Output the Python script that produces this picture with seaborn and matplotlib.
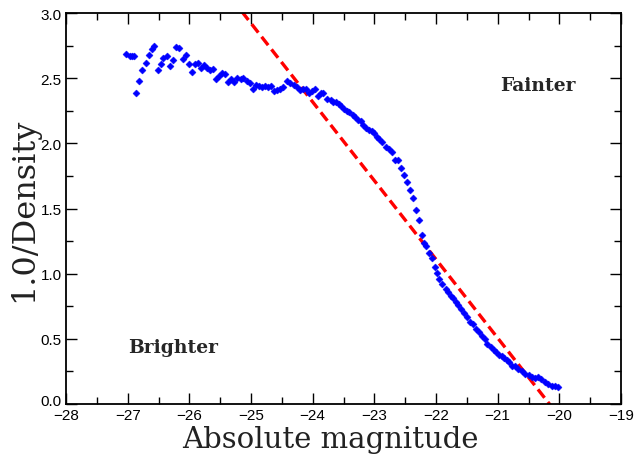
import matplotlib
matplotlib.use("Agg")
import matplotlib.pyplot as plt
import matplotlib.transforms as mtransforms
import seaborn as sns
import numpy as np
import pandas as pd
from matplotlib.ticker import MultipleLocator

# Data
magnitude = [
    -27.02, -26.97, -26.93, -26.90, -26.865, -26.81, -26.77, -26.71, -26.66, -26.61,
    -26.57, -26.51, -26.46, -26.42, -26.37, -26.31, -26.26, -26.21, -26.16, -26.11,
    -26.06, -26.01, -25.96, -25.91, -25.865, -25.81, -25.76, -25.71, -25.665, -25.61,
    -25.57, -25.52, -25.47, -25.42, -25.37, -25.32, -25.27, -25.22, -25.17, -25.125,
    -25.07, -25.02, -24.97, -24.925, -24.875, -24.82, -24.77, -24.72, -24.675, -24.63,
    -24.58, -24.53, -24.48, -24.42, -24.37, -24.31, -24.26, -24.21, -24.15, -24.10,
    -24.055, -24.01, -23.96, -23.92, -23.87, -23.83, -23.76, -23.71, -23.665, -23.62,
    -23.58, -23.535, -23.49, -23.45, -23.41, -23.35, -23.31, -23.26, -23.22, -23.18,
    -23.135, -23.09, -23.04, -23.00, -22.96, -22.92, -22.875, -22.81, -22.77, -22.72,
    -22.665, -22.62, -22.57, -22.52, -22.465, -22.42, -22.37, -22.32, -22.27, -22.22,
    -22.195, -22.16, -22.12, -22.07, -22.02, -21.99, -21.95, -21.90, -21.84, -21.80,
    -21.76, -21.73, -21.68, -21.64, -21.595, -21.55, -21.49, -21.45, -21.405, -21.35,
    -21.30, -21.26, -21.21, -21.17, -21.11, -21.06, -21.02, -20.975, -20.935, -20.89,
    -20.85, -20.81, -20.77, -20.72, -20.665, -20.61, -20.55, -20.50, -20.45, -20.39,
    -20.34, -20.29, -20.23, -20.18, -20.125, -20.07, -20.02,
]
inv_density = [
    2.685, 2.67, 2.67, 2.67, 2.39, 2.48, 2.56, 2.62, 2.68, 2.72,
    2.75, 2.56, 2.61, 2.655, 2.67, 2.59, 2.64, 2.74, 2.735, 2.65,
    2.68, 2.61, 2.55, 2.61, 2.62, 2.58, 2.60, 2.58, 2.56, 2.57,
    2.49, 2.52, 2.54, 2.53, 2.47, 2.49, 2.47, 2.505, 2.49, 2.505,
    2.48, 2.46, 2.42, 2.45, 2.44, 2.43, 2.44, 2.43, 2.44, 2.40,
    2.41, 2.42, 2.43, 2.48, 2.46, 2.45, 2.43, 2.41, 2.42, 2.42,
    2.39, 2.405, 2.42, 2.36, 2.39, 2.385, 2.34, 2.33, 2.32, 2.315,
    2.30, 2.285, 2.26, 2.25, 2.24, 2.22, 2.20, 2.18, 2.17, 2.14,
    2.12, 2.105, 2.095, 2.08, 2.045, 2.03, 2.01, 1.97, 1.96, 1.93,
    1.875, 1.87, 1.81, 1.76, 1.70, 1.645, 1.58, 1.49, 1.41, 1.30,
    1.235, 1.21, 1.16, 1.12, 1.05, 1.005, 0.96, 0.92, 0.88, 0.857,
    0.83, 0.81, 0.785, 0.76, 0.73, 0.70, 0.67, 0.63, 0.61, 0.575,
    0.55, 0.52, 0.50, 0.46, 0.435, 0.414, 0.40, 0.376, 0.365, 0.35,
    0.34, 0.32, 0.294, 0.29, 0.27, 0.255, 0.23, 0.22, 0.205, 0.20,
    0.205, 0.19, 0.167, 0.15, 0.14, 0.135, 0.13,
]
fit_mag = [-26.0, -20.0]
fit_val = [3.525, -0.097]

x_ticks = [-28, -27, -26, -25, -24, -23, -22, -21, -20, -19]
y_ticks = [0.0, 0.5, 1.0, 1.5, 2.0, 2.5, 3.0]

df = pd.DataFrame({"mag": magnitude, "inv": inv_density})
fit = pd.DataFrame({"mag": fit_mag, "inv": fit_val})

sns.set_theme(style="ticks")
plt.rcParams["font.family"] = ["Liberation Sans", "DejaVu Sans"]

fig = plt.figure(figsize=(6.34, 4.56), dpi=100)
ax = fig.add_axes([66/634, 1-405/456, (621-66)/634, (405-14)/456])

sns.lineplot(data=fit, x="mag", y="inv", ax=ax, color="#ff0000",
             linestyle=(0, (3.2, 1.6)), linewidth=2.4, zorder=2)
sns.scatterplot(data=df, x="mag", y="inv", ax=ax, marker="D", s=13,
                color="#0000ff", edgecolor="#0000ff", linewidth=0.3, zorder=3)

ax.set_xlim(-28, -19)
ax.set_ylim(0, 3.0)
ax.set_xticks(x_ticks)
ax.set_yticks(y_ticks)
ax.set_xticklabels([f"\u2212{abs(t)}" for t in x_ticks])
ax.set_yticklabels([f"{t:.1f}" for t in y_ticks])
ax.xaxis.set_minor_locator(MultipleLocator(0.5))
ax.yaxis.set_minor_locator(MultipleLocator(0.25))
ax.tick_params(which="both", direction="in", top=True, right=True,
               labelsize=11, colors="black", pad=3)
ax.tick_params(which="major", length=8, width=1)
ax.tick_params(which="minor", length=5, width=1)
for s in ax.spines.values():
    s.set_linewidth(1.3)
    s.set_color("black")

# lift the "0.0" label slightly so it does not touch "-28"
ylabels = ax.get_yticklabels()
ylabels[0].set_transform(ylabels[0].get_transform() +
                         mtransforms.ScaledTranslation(0, 3/72, fig.dpi_scale_trans))

serif = ["DejaVu Serif"]
ax.set_xlabel("Absolute magnitude", family=serif, fontsize=21, color="#222222")
ax.set_ylabel("1.0/Density", family=serif, fontsize=23, labelpad=1, color="#222222")
ax.xaxis.set_label_coords((330 - 66) / 555, 2 / 456,
                          transform=mtransforms.blended_transform_factory(ax.transAxes, fig.transFigure))
ax.xaxis.label.set_va("bottom")

ax.text(-20.35, 2.45, "Fainter", family=serif, fontweight="bold",
        fontsize=13.5, ha="center", va="center")
ax.text(-26.265, 0.44, "Brighter", family=serif, fontweight="bold",
        fontsize=13.5, ha="center", va="center")

fig.savefig("out.png", dpi=100)
